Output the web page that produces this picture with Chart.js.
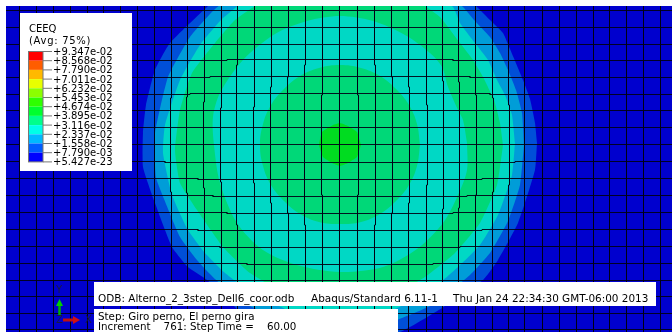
<!DOCTYPE html>
<html><head><meta charset="utf-8">
<style>html,body{margin:0;padding:0;background:#fff}canvas{display:block}</style>
<script src="https://cdn.jsdelivr.net/npm/chart.js@4"></script>
</head><body>
<canvas id="c" width="672" height="332"></canvas>
<script>
// contour boundaries, model coordinates around the hub
const ringA=[[197,2],[195,22],[190,46],[183,65],[170,96],[163,112],[150,125],[137,138],[100,168],[50,190],[0,197],[-50,190],[-98,170],[-133,138],[-170,102],[-185,75],[-194,40],[-197,12],[-197,-22],[-185,-58],[-168,-102],[-152,-122],[-133,-135],[-98,-168],[-50,-190],[0,-197],[60,-187],[102,-163],[143,-135],[158,-115],[178,-78],[195,-25],[197,2]];
const ringB=[[184,0],[182,32],[176,55],[168,75],[160,92],[150,108],[135,124],[123,138],[92,160],[48,178],[0,185],[-48,178],[-92,160],[-125,136],[-150,108],[-172,68],[-185,12],[-185,-20],[-184,-33],[-176,-54],[-160,-92],[-143,-115],[-125,-134],[-92,-160],[-48,-178],[0,-185],[48,-178],[92,-160],[130,-130],[150,-108],[168,-76],[180,-40],[184,0]];
const ringC=[[175,2],[172,30],[165,50],[157,65],[148,85],[135,102],[120,122],[113,138],[85,155],[44,170],[0,176],[-44,170],[-85,152],[-118,126],[-140,100],[-160,65],[-175,20],[-177,-8],[-168,-50],[-152,-85],[-135,-108],[-115,-128],[-85,-150],[-44,-168],[0,-174],[44,-168],[85,-150],[118,-122],[140,-100],[158,-70],[172,-30],[175,2]];
const ringD=[[163,0],[160,22],[154,45],[143,68],[133,85],[120,102],[100,128],[80,142],[42,157],[0,163],[-42,157],[-80,142],[-105,125],[-125,102],[-148,72],[-160,35],[-165,-5],[-160,-38],[-143,-65],[-117,-102],[-90,-128],[-42,-155],[0,-161],[42,-155],[85,-132],[115,-108],[140,-78],[157,-40],[163,0]];
const ringE=[[127,2],[123,25],[118,35],[108,58],[102,78],[90,92],[65,110],[33,124],[0,129],[-33,124],[-65,111],[-97,85],[-120,52],[-127,28],[-126,0],[-120,-38],[-103,-78],[-77,-105],[-43,-120],[0,-127],[43,-122],[77,-104],[103,-78],[118,-50],[127,-25],[127,2]];
const ringF=[[80,0],[77,21],[69,40],[56,56],[40,69],[21,77],[0,80],[-21,77],[-40,69],[-56,56],[-69,40],[-77,21],[-80,0],[-77,-21],[-69,-40],[-56,-56],[-40,-69],[-21,-77],[0,-79],[21,-77],[40,-69],[56,-56],[69,-40],[77,-21],[80,0]];
const ringG=[[21,0],[17,13],[8,19],[0,22],[-7,20],[-18,13],[-21,0],[-17,-12],[-8,-18],[0,-21],[8,-18],[17,-12],[21,0]];
const plate=[[-334,139],[332,139],[332,-187],[-334,-187]];
const ringShapes=[plate,ringA,ringB,ringC,ringD,ringE,ringF,ringG];
const ringColors=['#0000CE','#004FD8','#009DD8','#00D8C5','#00D878','#00D8C5','#00D878','#00DC20'];
const ringCurve=[0,0.15,0.15,0.15,0.15,0.3,0.4,0.1];

// mesh lines: position, half-length of the displaced central part, displacement
const meshRows=[134.5,117.5,100.5,84.5,67.5,50.5,34.5,17.5,0.5,-16.5,-33.5,-50.5,-67.5,-84.5,-101.5,-118.5,-135.5,-151.5,-168.5,-184.5];
const rowSpan=[0,0,0,113,130,150,0,0,0,175,142,127,113,142,120,93,0,0,0,0];
const rowShift=[0,0,0,1,1,1,0,0,0,-1,-1,-1,-1,-1,-1,-1,0,0,0,0];
const meshCols=[-320.5,-303.5,-286.5,-269.5,-252.5,-236.5,-219.5,-202.5,-185.5,-168.5,-152.5,-135.5,-118.5,-102.5,-85.5,-68.5,-51.5,-34.5,-17.5,-0.5,17.5,34.5,51.5,68.5,86.5,102.5,118.5,135.5,152.5,168.5,184.5,202.5,219.5,236.5,253.5,269.5,286.5,303.5,320.5];
const colSpan=[0,0,0,0,0,0,0,0,0,47,48,43,37,80,38,58,68,80,50,0,50,80,68,58,40,64,63,50,47,40,0,0,0,0,0,0,0,0,0];
const colShift=[0,0,0,0,0,0,0,0,0,-1,-1,-1,-1,-1,-1,-1,-1,-1,-1,0,1,1,1,1,1,1,1,1,1,1,0,0,0,0,0,0,0,0,0];

// legend
const legendTitle=['CEEQ','(Avg: 75%)'];
const legendLabels=['+9.347e-02','+8.568e-02','+7.790e-02','+7.011e-02','+6.232e-02','+5.453e-02','+4.674e-02','+3.895e-02','+3.116e-02','+2.337e-02','+1.558e-02','+7.790e-03','+5.427e-23'];
const legendColors=['#FF0000','#FF5D00','#FFB900','#E8FF00','#8BFF00','#2EFF00','#00FF2E','#00FF8B','#00FFE8','#00B9FF','#005DFF','#0000FF'];
const infoLine=['ODB: Alterno_2_3step_Dell6_coor.odb','Abaqus/Standard 6.11-1','Thu Jan 24 22:34:30 GMT-06:00 2013'];
const stepLines=['Step: Giro perno, El perno gira','Increment    761: Step Time =    60.00'];

const toPts=a=>a.map(p=>({x:p[0],y:p[1]}));
const datasets=[];
ringShapes.forEach((s,i)=>datasets.push({data:toPts(s),showLine:true,fill:'shape',tension:ringCurve[i],backgroundColor:ringColors[i],borderColor:ringColors[i],borderWidth:0,pointRadius:0,order:100-i}));
const meshStyle={showLine:true,fill:false,tension:0,borderColor:'rgba(0,0,20,0.9)',borderWidth:1,pointRadius:0,order:1};
meshRows.forEach((y,i)=>{
  const b=rowSpan[i],d=rowShift[i];
  const p=b?[[-340,y],[-b,y],[-b,y+d],[b,y+d],[b,y],[340,y]]:[[-340,y],[340,y]];
  datasets.push(Object.assign({data:toPts(p)},meshStyle));
});
meshCols.forEach((x,i)=>{
  const b=colSpan[i],d=colShift[i];
  const p=b?[[x,145],[x,b],[x+d,b],[x+d,-b],[x,-b],[x,-190]]:[[x,145],[x,-190]];
  datasets.push(Object.assign({data:toPts(p)},meshStyle));
});

const overlay={id:'overlay',afterDatasetsDraw(ch){
  const g=ch.ctx;g.save();
  g.fillStyle='#fff';
  g.fillRect(20,13,112,158);
  g.fillRect(94,282,562,24);
  g.fillRect(94,309,304,23);
  const top=51.5,h=9.2;
  legendColors.forEach((c,i)=>{g.fillStyle=c;g.fillRect(29,top+i*h,14,h);});
  g.strokeStyle='#777';g.lineWidth=1;
  g.strokeRect(28.5,top,14.5,h*12);
  legendLabels.forEach((t,i)=>{
    const y=top+i*h;
    g.beginPath();g.moveTo(43,y);g.lineTo(52,y);g.stroke();
  });
  // view triad
  g.strokeStyle='#00B000';g.lineWidth=2.5;
  g.beginPath();g.moveTo(59.5,316);g.lineTo(59.5,305);g.stroke();
  g.fillStyle='#00D000';g.beginPath();g.moveTo(59.5,299);g.lineTo(56,306);g.lineTo(63,306);g.closePath();g.fill();
  g.strokeStyle='#C01010';g.lineWidth=3;g.beginPath();g.moveTo(63,320);g.lineTo(75,320);g.stroke();
  g.fillStyle='#D01010';g.beginPath();g.moveTo(80,320);g.lineTo(73,316);g.lineTo(73,324);g.closePath();g.fill();
  // text
  g.filter='blur(0.35px)';
  g.font='10px "DejaVu Sans"';g.textBaseline='alphabetic';g.textAlign='left';
  g.fillStyle='#000';
  g.fillText(legendTitle[0],29,32);
  g.letterSpacing='0.7px';
  g.fillText(legendTitle[1],29,44);
  g.letterSpacing='0px';
  legendLabels.forEach((t,i)=>g.fillText(t,53,top+i*h+3.5));
  g.font='10.45px "DejaVu Sans"';
  g.fillText(infoLine[0],98,301.5);
  g.fillText(infoLine[1],311,301.5);
  g.fillText(infoLine[2],453,301.5);
  g.font='10.3px "DejaVu Sans"';
  g.fillText(stepLines[0],98,319.5);
  g.fillText(stepLines[1],98,329.5);
  g.font='10px "DejaVu Sans"';
  g.fillStyle='#1a1a40';
  g.fillText('Y',56,293);
  g.fillText('Z',56,323);
  g.fillText('X',85,323);
  g.restore();
}};

new Chart(document.getElementById('c'),{
  type:'scatter',
  data:{datasets},
  plugins:[overlay],
  options:{
    responsive:false,animation:false,devicePixelRatio:1,
    layout:{padding:{left:6,top:6,right:0,bottom:0}},
    plugins:{legend:{display:false},tooltip:{enabled:false},title:{display:false}},
    scales:{
      x:{type:'linear',min:-334,max:332,display:false},
      y:{type:'linear',min:-187,max:139,display:false}
    }
  }
});
</script>
</body></html>
